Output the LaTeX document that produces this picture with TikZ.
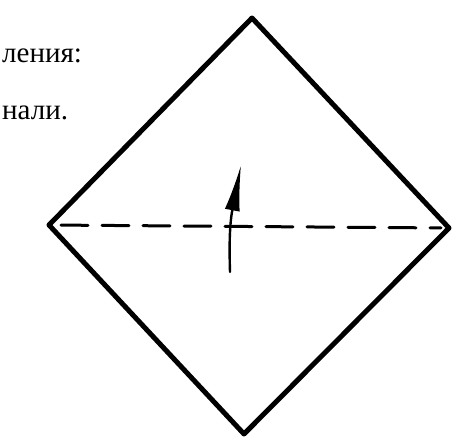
\documentclass[tikz,border=0pt]{standalone}
\usepackage{fontspec}
\setmainfont{Liberation Serif}
\usetikzlibrary{arrows.meta}

\begin{document}
\begin{tikzpicture}[x=1pt, y=-1pt, line cap=round, line join=round]
\useasboundingbox (0,0) rectangle (462,440);

% --- left over words of the text ---
\node[anchor=base west, inner sep=0pt, font=\fontsize{29}{33}\selectfont] (words1) at (2,62) {ления:};
\node[anchor=base west, inner sep=0pt, font=\fontsize{29}{33}\selectfont] (words2) at (2,119) {нали.};

% --- corners of the square sheet ---
\coordinate (T) at (252,18);
\coordinate (R) at (449,228);
\coordinate (B) at (244,434);
\coordinate (L) at (49,225);

% --- sheet outline ---
\draw[line width=5pt] (T) -- (R) -- (B) -- (L) -- cycle;

% --- fold line (dashed) between side corners ---
\draw[line width=3pt, dash pattern=on 27pt off 14pt, shorten <=12pt, shorten >=8pt] (L) -- (R);

% --- fold direction: bottom half goes up ---
\coordinate (tail) at (230,272);
\coordinate (tip) at (241,165);
\draw[line width=2.4pt, -{Latex[length=46pt,width=15pt]}]
  (tail) .. controls (229,240) and (230,222) .. (tip);

\end{tikzpicture}
\end{document}
